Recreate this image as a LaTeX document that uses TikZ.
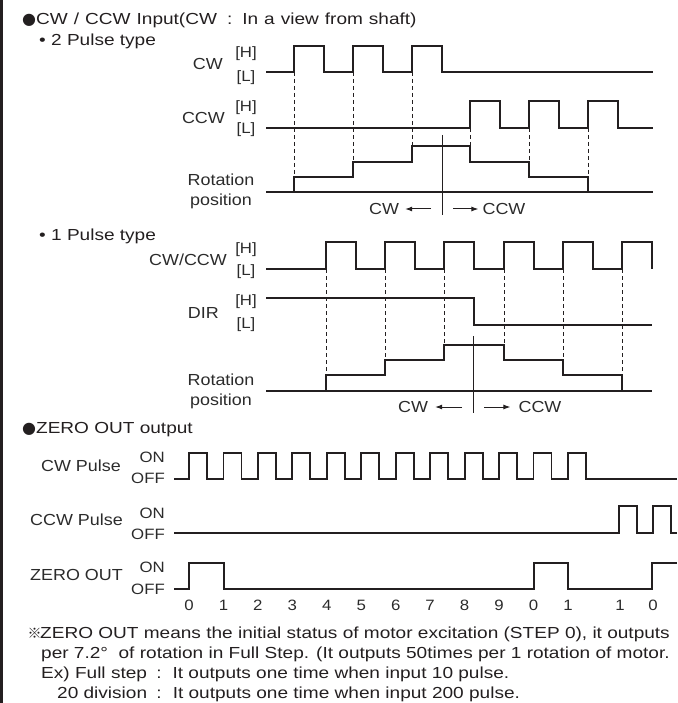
\documentclass[tikz,border=0pt]{standalone}
\usepackage{fontspec}
\setmainfont{Liberation Sans}[FakeStretch=1.12]
\newfontfamily\widefont{Liberation Sans}[FakeStretch=1.19]
\newfontfamily\symfont{DejaVu Sans}
\newfontfamily\cjkfont{Noto Sans CJK KR}
\usetikzlibrary{arrows.meta}
\definecolor{inkdark}{HTML}{231F20}
\definecolor{inkgrey}{HTML}{2B2B2B}
\newcommand{\fwcolon}{\hspace{4pt}:\hspace{4pt}}
\newcommand{\refmark}{\makebox[11pt][c]{\cjkfont\fontsize{14}{14}\selectfont ※}}
\newcommand{\headdot}{{\symfont ●}}

\begin{document}
\begin{tikzpicture}[
    x=1pt, y=-1pt,
    ttl/.style={font=\widefont\fontsize{16}{19}\selectfont, text=inkdark, inner sep=0pt,
        text height=11.5pt, text depth=0pt, anchor=west},
    lbl/.style={font=\fontsize{16}{19}\selectfont, text=inkgrey, inner sep=0pt,
        text height=11.5pt, text depth=0pt},
    lvl/.style={font=\fontsize{15}{18}\selectfont, text=inkgrey, inner sep=0pt,
        text height=11pt, text depth=0pt},
    num/.style={font=\fontsize{15}{18}\selectfont, text=inkgrey, inner sep=0pt,
        text height=11pt, text depth=0pt},
    sig/.style={draw=inkdark, line width=2pt, line join=miter},
    base/.style={draw=inkdark, line width=1.6pt},
    guide/.style={draw=inkdark, line width=0.9pt, dash pattern=on 4pt off 3pt},
    split/.style={draw=inkdark, line width=0.8pt},
    arr/.style={-{Latex[length=7pt, width=5pt]}, draw=inkdark, line width=1pt}
]
    \useasboundingbox (0,0) rectangle (677,703);
    % frame edge
    \draw[line width=2.5pt, inkdark] (1.25,0) -- (1.25,703);

    % section 1: CW / CCW input, 2 pulse type
    \node[ttl] (head1) at (22,19) {\spaceskip=6pt\headdot CW / CCW Input(CW \fwcolon{} In a view from shaft)};
    \node[ttl] (type2) at (39,40) {• 2 Pulse type};
    \node[lbl, anchor=east] (cw) at (223,64) {CW};
    \node[lvl] (cwH) at (246,52) {[H]};
    \node[lvl] (cwL) at (246,76) {[L]};
    \node[lbl, anchor=east] (ccw) at (225,118) {CCW};
    \node[lvl] (ccwH) at (246,106) {[H]};
    \node[lvl] (ccwL) at (246,128) {[L]};
    \node[lbl] (rotA) at (221,180) {Rotation};
    \node[lbl] (rotB) at (221,200) {position};

    \draw[sig] (266,72) foreach \r in {294,353,412} { -- (\r,72) -- (\r,46) -- (\r+30,46) -- (\r+30,72) } -- (653,72);
    \draw[sig] (266,128) foreach \r in {470,529,588} { -- (\r,128) -- (\r,101) -- (\r+30,101) -- (\r+30,128) } -- (653,128);
    \draw[base] (266,192) -- (653,192);
    \draw[sig] (266,192) -- (294,192) -- (294,177) -- (353,177) -- (353,162) -- (412,162) -- (412,146)
        -- (470,146) -- (470,162) -- (529,162) -- (529,177) -- (588,177) -- (588,192) -- (653,192);
    \foreach \x/\a/\b in {294/72/177, 353/72/162, 412/72/146, 470/128/146, 529/128/162, 588/128/177}
        \draw[guide] (\x,\a) -- (\x,\b);

    \draw[split] (442,135) -- (442,215);
    \coordinate (mid1) at (442,209);
    \node[lbl] (cwA) at (384,209) {CW};
    \node[lbl] (ccwA) at (504,209) {CCW};
    \draw[arr] ([xshift=-11pt]mid1) -- ([xshift=6pt]cwA.east);
    \draw[arr] ([xshift=11pt]mid1) -- ([xshift=-4pt]ccwA.west);

    % section 2: 1 pulse type
    \node[ttl] (type1) at (39,235) {• 1 Pulse type};
    \node[lbl, anchor=east] (pul) at (227,260) {CW/CCW};
    \node[lvl] (pulH) at (246,248) {[H]};
    \node[lvl] (pulL) at (246,270) {[L]};
    \node[lbl, anchor=east] (dir) at (219,313) {DIR};
    \node[lvl] (dirH) at (246,300) {[H]};
    \node[lvl] (dirL) at (246,323) {[L]};
    \node[lbl] (rotC) at (221,380) {Rotation};
    \node[lbl] (rotD) at (221,400) {position};

    \draw[sig] (266,269) foreach \r in {326,385,444,504,563,622} { -- (\r,269) -- (\r,242) -- (\r+30,242) -- (\r+30,269) };
    \draw[sig] (266,298) -- (474,298) -- (474,325) -- (652,325);
    \draw[base] (266,391) -- (652,391);
    \draw[sig] (266,391) -- (326,391) -- (326,375) -- (385,375) -- (385,360) -- (444,360) -- (444,345)
        -- (504,345) -- (504,360) -- (563,360) -- (563,375) -- (622,375) -- (622,391) -- (652,391);
    \foreach \x/\b in {326/375, 385/360, 444/345, 504/345, 563/360, 622/375}
        \draw[guide] (\x,269) -- (\x,\b);

    \draw[split] (473,336) -- (473,413);
    \coordinate (mid2) at (473,407);
    \node[lbl] (cwB) at (413,407) {CW};
    \node[lbl] (ccwB) at (540,407) {CCW};
    \draw[arr] ([xshift=-11pt]mid2) -- ([xshift=7pt]cwB.east);
    \draw[arr] ([xshift=11pt]mid2) -- ([xshift=-8pt]ccwB.west);

    % section 3: ZERO OUT output
    \node[ttl] (head2) at (22,428) {\headdot ZERO OUT output};
    \node[lbl, anchor=east] (cwp) at (121,466) {CW Pulse};
    \node[lvl, anchor=east] (cwpOn) at (165,457) {ON};
    \node[lvl, anchor=east] (cwpOff) at (165,478) {OFF};
    \node[lbl, anchor=east] (ccwp) at (123,520) {CCW Pulse};
    \node[lvl, anchor=east] (ccwpOn) at (165,513) {ON};
    \node[lvl, anchor=east] (ccwpOff) at (165,534) {OFF};
    \node[lbl, anchor=east] (zero) at (123,575) {ZERO OUT};
    \node[lvl, anchor=east] (zeroOn) at (165,567) {ON};
    \node[lvl, anchor=east] (zeroOff) at (165,589) {OFF};

    \draw[sig, line width=1.8pt] (174,479) foreach \k in {0,...,11} { -- (189+34.45*\k,479) -- (189+34.45*\k,453)
        -- (207+34.45*\k,453) -- (207+34.45*\k,479) } -- (677,479);
    \draw[sig, line width=1.8pt] (174,533) foreach \r in {619,653} { -- (\r,533) -- (\r,506) -- (\r+18,506) -- (\r+18,533) } -- (677,533);
    \draw[sig, line width=1.8pt] (174,589) -- (189,589) -- (189,563) -- (224,563) -- (224,589) -- (534,589) -- (534,563)
        -- (568,563) -- (568,589) -- (652,589) -- (652,563) -- (677,563);

    % step count
    \foreach \n [count=\k from 0] in {0,1,2,3,4,5,6,7,8,9,0,1}
        \node[num] (cnt\k) at (189+34.45*\k,605) {\n};
    \node[num] (cnt12) at (620,605) {1};
    \node[num] (cnt13) at (653,605) {0};

    % note
    \node[ttl] (note1) at (29,633) {\refmark ZERO OUT means the initial status of motor excitation (STEP 0), it outputs};
    \node[ttl] (note2) at (41,653) {per 7.2°\ \ of rotation in Full Step. (It outputs 50times per 1 rotation of motor.};
    \node[ttl] (note3) at (41,673) {Ex) Full step \fwcolon{} It outputs one time when input 10 pulse.};
    \node[ttl] (note4) at (57,693) {20 division \fwcolon{} It outputs one time when input 200 pulse.};
\end{tikzpicture}
\end{document}
